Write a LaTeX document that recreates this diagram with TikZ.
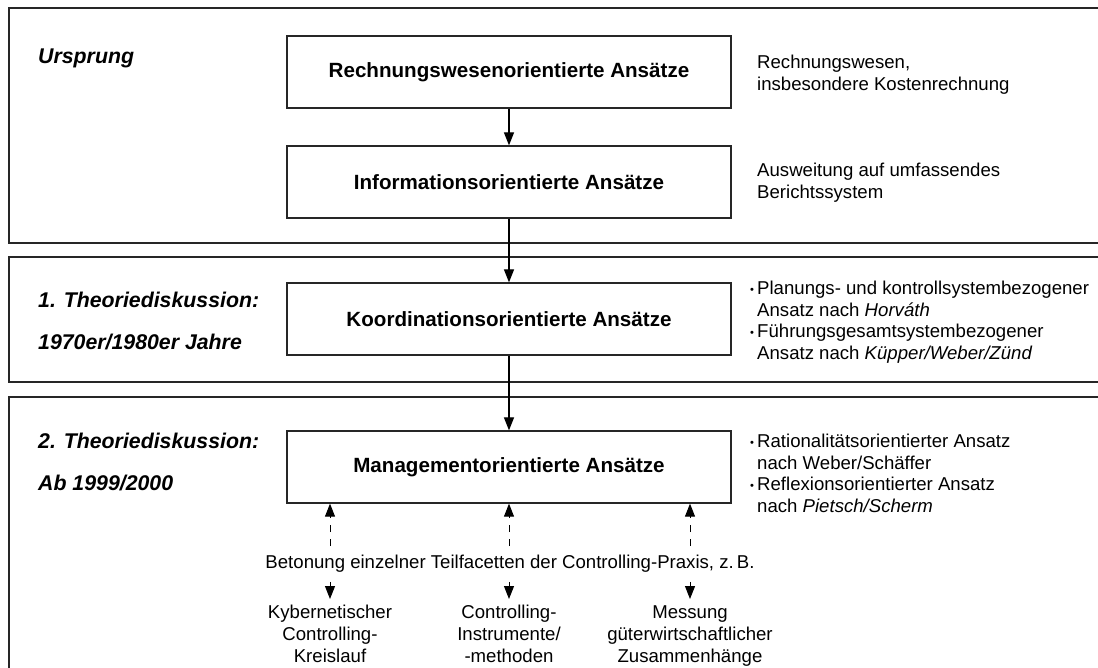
\documentclass[tikz,border=0pt]{standalone}
\usepackage{fontspec}
\setmainfont{Liberation Sans}
\usetikzlibrary{arrows.meta}
\newcommand\bul{\makebox[7pt][l]{\raisebox{1.5pt}{\scalebox{0.6}{\textbullet}}}}
\newcommand\hng{\hspace*{7pt}}
\begin{document}
\begin{tikzpicture}[x=1pt,y=-1pt,
  frame/.style={draw=black!85, line width=1.4pt},
  box/.style={draw=black!85, line width=1.3pt, minimum width=444pt, minimum height=72pt, inner sep=0pt,
    font=\fontsize{20.6}{25}\selectfont\bfseries},
  lbl/.style={anchor=west, inner sep=0pt, font=\fontsize{21.3}{25}\selectfont\bfseries\itshape},
  desc/.style={anchor=north west, inner sep=0pt, align=left, font=\fontsize{18.6}{21.5}\selectfont},
  sub/.style={anchor=north, inner sep=0pt, align=center, font=\fontsize{18.6}{22}\selectfont},
  arr/.style={-{Triangle[width=10pt,length=13pt]}, line width=1.2pt},
  darr/.style={-{Triangle[width=10pt,length=13pt]}, line width=1pt, dash pattern=on 7pt off 7pt}
]
\useasboundingbox (0,0) rectangle (1098,667);
\clip (0,0) rectangle (1098,667);
% frames (open to the right / bottom, cropped)
\draw[frame] (1110,8) -- (9,8) -- (9,243) -- (1110,243);
\draw[frame] (1110,257) -- (9,257) -- (9,382) -- (1110,382);
\draw[frame] (1110,397) -- (9,397) -- (9,680);
% left labels
\node[lbl] (u)  at (38,58)  {Ursprung};
\node[lbl] (t1) at (38,300) {1. Theoriediskussion:};
\node[lbl] (j1) at (38,342) {1970er/1980er Jahre};
\node[lbl] (t2) at (38,441) {2. Theoriediskussion:};
\node[lbl] (j2) at (38,483) {Ab 1999/2000};
% main boxes
\node[box] (b1) at (509,72)  {Rechnungswesenorientierte Ansätze};
\node[box] (b2) at (509,182) {Informationsorientierte Ansätze};
\node[box] (b3) at (509,319) {Koordinationsorientierte Ansätze};
\node[box] (b4) at (509,467) {Managementorientierte Ansätze};
\draw[arr] (b1) -- (b2);
\draw[arr] (b2) -- (b3);
\draw[arr] (b3) -- (b4);
% right descriptions
\node[desc] (d1) at (757,55) {Rechnungswesen,\\insbesondere Kostenrechnung};
\node[desc] (d2) at (757,163) {Ausweitung auf umfassendes\\Berichtssystem};
\node[desc] (d3) at (750,281) {\bul Planungs- und kontrollsystembezogener\\\hng Ansatz nach \textit{Horváth}\\\bul Führungsgesamtsystembezogener\\\hng Ansatz nach \textit{Küpper/Weber/Zünd}};
\node[desc] (d4) at (750,434) {\bul Rationalitätsorientierter Ansatz\\\hng nach Weber/Schäffer\\\bul Reflexionsorientierter Ansatz\\\hng nach \textit{Pietsch/Scherm}};
% emphasis line
\node[inner xsep=2pt, inner ysep=9pt, font=\fontsize{18.6}{22}\selectfont] (bet) at (510,564) {Betonung einzelner Teilfacetten der Controlling-Praxis, z.\,B.};
% bottom facets
\node[sub] (k1) at (330,605) {Kybernetischer\\Controlling-\\Kreislauf};
\node[sub] (k2) at (509,605) {Controlling-\\Instrumente/\\-methoden};
\node[sub] (k3) at (690,605) {Messung\\güterwirtschaftlicher\\Zusammenhänge};
\foreach \k in {k1,k2,k3}{
  \draw[darr] (\k |- bet.north) -- (\k |- b4.south);
  \draw[darr] (\k |- bet.south) -- ([yshift=6pt]\k.north);
}
\end{tikzpicture}
\end{document}
